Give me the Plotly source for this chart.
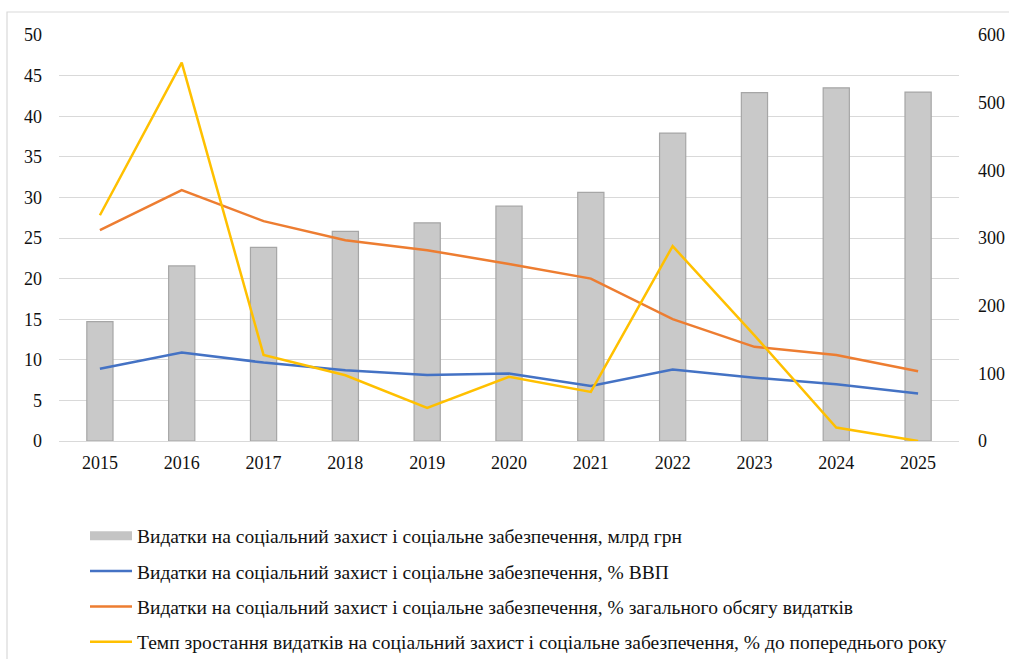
import plotly.graph_objects as go

years = ["2015", "2016", "2017", "2018", "2019", "2020", "2021", "2022", "2023", "2024", "2025"]
spend_bn = [176.5, 258.8, 286.0, 309.7, 322.4, 347.0, 367.4, 455.0, 514.7, 522.0, 515.6]
pct_gdp = [8.9, 10.9, 9.66, 8.7, 8.13, 8.3, 6.78, 8.8, 7.8, 7.0, 5.84]
pct_total = [25.97, 30.9, 27.08, 24.73, 23.5, 21.8, 20.0, 15.0, 11.6, 10.6, 8.6]
growth = [27.8, 46.6, 10.6, 8.1, 4.07, 7.9, 6.04, 24.0, 13.0, 1.65, 0.0]

names = [
    "Видатки на соціальний захист і соціальне забезпечення, млрд грн",
    "Видатки на соціальний захист і соціальне забезпечення, % ВВП",
    "Видатки на соціальний захист і соціальне забезпечення, % загального обсягу видатків",
    "Темп зростання видатків на соціальний захист і соціальне забезпечення, % до попереднього року",
]

FONT = "'Liberation Serif', 'Times New Roman', Times, serif"
BAR_FILL = "#c9c9c9"
BAR_EDGE = "#a6a6a6"

fig = go.Figure()
fig.add_trace(go.Bar(x=years, y=spend_bn, name=names[0], yaxis="y",
                     marker=dict(color=BAR_FILL, line=dict(color=BAR_EDGE, width=1.2)),
                     showlegend=False))
# legend swatch for the bar series (wide grey box like the original)
fig.add_trace(go.Scatter(x=[None], y=[None], name=names[0], yaxis="y", mode="lines",
                         line=dict(color="#c4c4c4", width=9), legendgroup="a"))
fig.add_trace(go.Scatter(x=years, y=pct_gdp, name=names[1], yaxis="y2", mode="lines",
                         line=dict(color="#4472C4", width=2.5), legendgroup="b"))
fig.add_trace(go.Scatter(x=years, y=pct_total, name=names[2], yaxis="y2", mode="lines",
                         line=dict(color="#ED7D31", width=2.5), legendgroup="c"))
fig.add_trace(go.Scatter(x=years, y=growth, name=names[3], yaxis="y2", mode="lines",
                         line=dict(color="#FFC000", width=2.5), legendgroup="d"))

W, H = 1009, 659
L, R, T, B = 59, 959, 35, 441

fig.update_layout(
    width=W, height=H,
    margin=dict(l=L, r=W - R, t=T, b=H - B, autoexpand=False),
    paper_bgcolor="white", plot_bgcolor="white",
    font=dict(family=FONT, size=18, color="#111111"),
    bargap=0.68,
    xaxis=dict(type="category", showgrid=False, showline=False, ticks="",
               tickfont=dict(family=FONT, size=18), ticklabelstandoff=9),
    yaxis=dict(side="right", range=[0, 600], dtick=100, showgrid=False,
               zeroline=False, showline=False, ticks="", tickfont=dict(family=FONT, size=18),
               ticklabelstandoff=18),
    yaxis2=dict(side="left", overlaying="y", range=[0, 50], dtick=5,
                showgrid=True, gridcolor="#d9d9d9", gridwidth=1,
                zeroline=True, zerolinecolor="#d9d9d9", zerolinewidth=1,
                showline=False, ticks="", tickfont=dict(family=FONT, size=18),
                ticklabelstandoff=16),
    showlegend=True,
    legend=dict(orientation="v", x=(85 - L) / (R - L), xanchor="left",
                y=(B - 516.5) / (B - T), yanchor="top",
                font=dict(family=FONT, size=19.5, color="#111111"),
                tracegroupgap=7, itemwidth=42, bgcolor="rgba(0,0,0,0)"),
    shapes=[dict(type="rect", xref="paper", yref="paper",
                 x0=(7 - L) / (R - L), x1=(1015 - L) / (R - L),
                 y0=(B - 665) / (B - T), y1=(B - 12) / (B - T),
                 line=dict(color="#d9d9d9", width=1.2), fillcolor="rgba(0,0,0,0)",
                 layer="below")],
)

fig.write_html("out.html", config={"displayModeBar": False},
               post_script="document.body.style.margin='0';")
